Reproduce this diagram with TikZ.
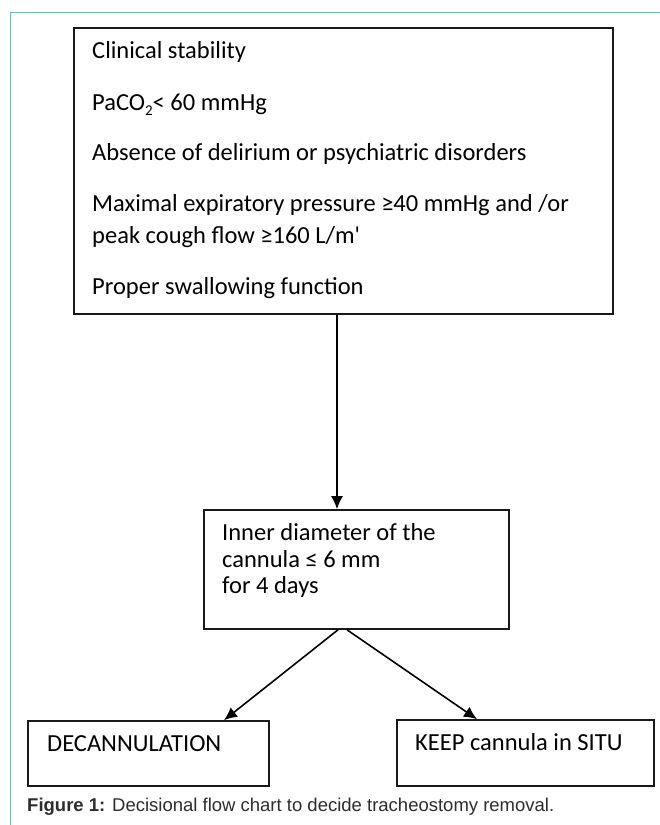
\documentclass[tikz,border=0pt]{standalone}
\usepackage{fontspec}
\setmainfont{Carlito}
\newfontfamily\capfont{Liberation Sans}
\usetikzlibrary{positioning}
\usetikzlibrary{arrows.meta}
\definecolor{frameteal}{RGB}{72,206,188}
\definecolor{capgray}{RGB}{45,45,45}
\newcommand{\lowtwo}{\raisebox{-0.22em}{\fontsize{15}{15}\selectfont 2}}

\begin{document}
\begin{tikzpicture}[x=1pt,y=-1pt,
    box/.style={draw=black!90, line width=1.6pt, rectangle, inner sep=0pt},
    txt/.style={anchor=base west, inner sep=0pt, font=\fontsize{24.5}{29}\selectfont},
    flow/.style={line width=1.6pt, -{Latex[length=13pt,width=12pt]}}]
  \useasboundingbox (0,0) rectangle (660,825);
  % page frame
  \draw[frameteal, line width=1.2pt] (10.5,825) -- (10.5,12.5) -- (660,12.5);

  % conditions
  \node[box, minimum width=539pt, minimum height=286pt] (crit) at (343.5,171) {};
  \foreach \y/\t [count=\i] in {58/{Clinical stability},
      110/{PaCO\lowtwo< 60 mmHg},
      160/{Absence of delirium or psychiatric disorders},
      211/{Maximal expiratory pressure ≥40 mmHg and /or},
      243/{peak cough flow ≥160 L/m\textquotesingle},
      294/{Proper swallowing function}}
    {\node[txt] (c\i) at (92,\y) {\t};}

  % cannula step
  \node[box, minimum width=305pt, minimum height=119pt] (cann) at (356.5,569.5) {};
  \node[txt] (m1) at (222,540) {Inner diameter of the};
  \node[txt] (m2) at (222,567) {cannula ≤ 6 mm};
  \node[txt] (m3) at (222,593) {for 4 days};

  % outcomes
  \node[box, minimum width=241pt, minimum height=65pt] (decan) at (148.5,753.5) {};
  \node[box, minimum width=257pt, minimum height=66pt] (keep) at (525.5,753) {};
  \node[txt] (d1) at (47,751) {DECANNULATION};
  \node[txt] (k1) at (415,750) {KEEP cannula in SITU};

  \draw[flow] ([xshift=-6.5pt]crit.south) -- ([xshift=-19.5pt]cann.north);
  \draw[flow] ([xshift=-18.5pt]cann.south) -- ([xshift=75.5pt]decan.north);
  \draw[flow] ([xshift=-9.5pt]cann.south) -- ([xshift=-48.5pt]keep.north);

  \node[anchor=base west, inner sep=0pt, text=capgray,
    font=\capfont\fontsize{18.5}{22}\selectfont] (cap) at (27,811)
    {\textbf{Figure 1:} Decisional flow chart to decide tracheostomy removal.};
\end{tikzpicture}
\end{document}
